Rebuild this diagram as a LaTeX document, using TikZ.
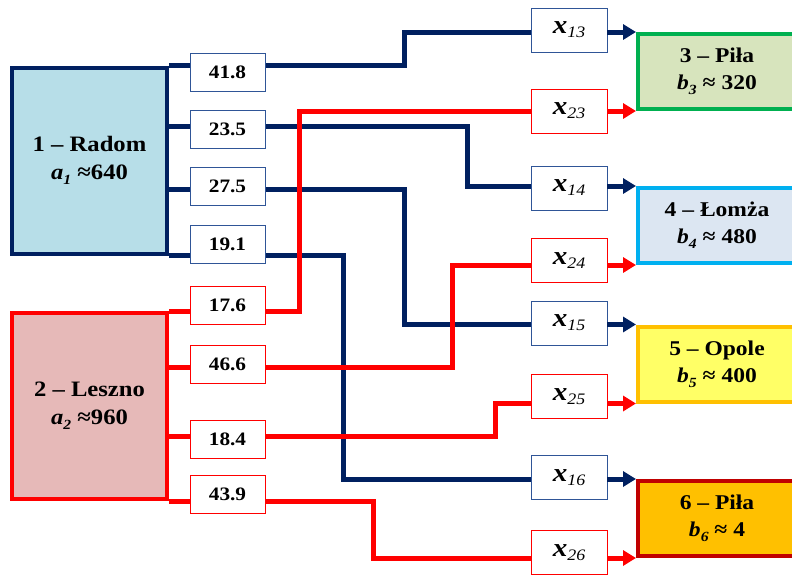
\documentclass[tikz,border=0pt]{standalone}
\usepackage{fontspec}
\setmainfont[FakeStretch=1.12]{Liberation Serif}
\usetikzlibrary{arrows.meta,backgrounds}
\definecolor{navy}{HTML}{002060}
\definecolor{navybox}{HTML}{2F5597}
\definecolor{redc}{HTML}{FF0000}
\definecolor{radomfill}{HTML}{B7DEE8}
\definecolor{lesznofill}{HTML}{E6B9B8}
\definecolor{pilafill}{HTML}{D7E4BD}
\definecolor{pilaborder}{HTML}{00B050}
\definecolor{lomzafill}{HTML}{DCE6F2}
\definecolor{lomzaborder}{HTML}{00B0F0}
\definecolor{opolefill}{HTML}{FFFF66}
\definecolor{opoleborder}{HTML}{FFC000}
\definecolor{pilasixfill}{HTML}{FFC000}
\definecolor{pilasixborder}{HTML}{C00000}
\newcommand\sbi[1]{\raisebox{-0.22em}{\fontsize{14}{14}\selectfont #1}}
\newcommand\xlab[1]{{\fontsize{26}{26}\selectfont\bfseries\itshape x}\raisebox{-4pt}{\fontsize{16}{16}\selectfont\mdseries\itshape #1}}
\tikzset{
  srcbox/.style={draw, line width=4pt, minimum width=155pt, minimum height=186pt,
    align=center, inner sep=0pt, font=\fontsize{22}{28}\selectfont\bfseries},
  costbox/.style={draw, line width=0.8pt, fill=white, minimum width=75pt,
    minimum height=38pt, inner sep=0pt, font=\fontsize{19}{19}\selectfont\bfseries},
  xbox/.style={draw, line width=0.8pt, fill=white, minimum width=76pt,
    minimum height=44pt, inner sep=0pt},
  tgtbox/.style={draw, line width=4pt, minimum width=158pt, minimum height=75pt,
    align=center, inner sep=0pt, font=\fontsize{21}{27}\selectfont\bfseries},
  conn/.style={line width=5pt},
  arr/.style={line width=5pt, -{Triangle[length=13pt,width=15pt]}}
}
\begin{document}
\begin{tikzpicture}[x=1pt,y=-1pt]
\clip (0,0) rectangle (792,574);
% sources
\node[srcbox, fill=radomfill, draw=navy] (radom) at (89.5,160.5)
  {1 – Radom\\{\itshape a\sbi{1}} ≈640};
\node[srcbox, fill=lesznofill, draw=redc] (leszno) at (89.5,406)
  {2 – Leszno\\{\itshape a\sbi{2}} ≈960};
% cost boxes
\node[costbox, draw=navybox] (c13) at (227.5,72) {41.8};
\node[costbox, draw=navybox] (c14) at (227.5,129) {23.5};
\node[costbox, draw=navybox] (c15) at (227.5,186) {27.5};
\node[costbox, draw=navybox] (c16) at (227.5,244) {19.1};
\node[costbox, draw=redc] (c23) at (227.5,305) {17.6};
\node[costbox, draw=redc] (c24) at (227.5,364) {46.6};
\node[costbox, draw=redc] (c25) at (227.5,439) {18.4};
\node[costbox, draw=redc] (c26) at (227.5,494.5) {43.9};
% x boxes
\node[xbox, draw=navybox] (x13) at (569,30) {\xlab{13}};
\node[xbox, draw=redc] (x23) at (569,111) {\xlab{23}};
\node[xbox, draw=navybox] (x14) at (569,188) {\xlab{14}};
\node[xbox, draw=redc] (x24) at (569,260.5) {\xlab{24}};
\node[xbox, draw=navybox] (x15) at (569,323) {\xlab{15}};
\node[xbox, draw=redc] (x25) at (569,396.5) {\xlab{25}};
\node[xbox, draw=navybox] (x16) at (569,477.5) {\xlab{16}};
\node[xbox, draw=redc] (x26) at (569,552.5) {\xlab{26}};
% targets
\node[tgtbox, fill=pilafill, draw=pilaborder] (p3) at (717,71.5)
  {3 – Piła\\{\itshape b\sbi{3}} ≈ 320};
\node[tgtbox, fill=lomzafill, draw=lomzaborder] (p4) at (717,225.5)
  {4 – Łomża\\{\itshape b\sbi{4}} ≈ 480};
\node[tgtbox, fill=opolefill, draw=opoleborder] (p5) at (717,364)
  {5 – Opole\\{\itshape b\sbi{5}} ≈ 400};
\node[tgtbox, fill=pilasixfill, draw=pilasixborder] (p6) at (717,518.5)
  {6 – Piła\\{\itshape b\sbi{6}} ≈ 4};
% bend points
\coordinate (k13) at (404,0);
\coordinate (k14) at (467,0);
\coordinate (k15) at (404,0);
\coordinate (k16) at (343,0);
\coordinate (k23) at (299,0);
\coordinate (k24) at (452,0);
\coordinate (k25) at (495,0);
\coordinate (k26) at (373,0);
\begin{scope}[on background layer]
  \fill[white] (0,0) rectangle (792,574);
  \draw[conn,navy] (radom.north east) -| (k13 |- p3.north west) -- (x13.west |- p3.north west);
  \draw[conn,navy] (radom.east |- 0,126) -| (k14 |- p4.north west) -- (x14.west |- p4.north west);
  \draw[conn,navy] (radom.east |- 0,189) -| (k15 |- p5.north west) -- (x15.west |- p5.north west);
  \draw[conn,navy] (radom.south east) -| (k16 |- p6.north west) -- (x16.west |- p6.north west);
  \draw[conn,redc] (leszno.north east) -| (k23 |- p3.south west) -- (x23.west |- p3.south west);
  \draw[conn,redc] (leszno.east |- 0,367) -| (k24 |- p4.south west) -- (x24.west |- p4.south west);
  \draw[conn,redc] (leszno.east |- 0,436) -| (k25 |- p5.south west) -- (x25.west |- p5.south west);
  \draw[conn,redc] (leszno.south east) -| (k26 |- p6.south west) -- (x26.west |- p6.south west);
\end{scope}
% arrows
\draw[arr,navy] (x13.east |- p3.north west) -- (p3.north west);
\draw[arr,redc] (x23.east |- p3.south west) -- (p3.south west);
\draw[arr,navy] (x14.east |- p4.north west) -- (p4.north west);
\draw[arr,redc] (x24.east |- p4.south west) -- (p4.south west);
\draw[arr,navy] (x15.east |- p5.north west) -- (p5.north west);
\draw[arr,redc] (x25.east |- p5.south west) -- (p5.south west);
\draw[arr,navy] (x16.east |- p6.north west) -- (p6.north west);
\draw[arr,redc] (x26.east |- p6.south west) -- (p6.south west);
\end{tikzpicture}
\end{document}
